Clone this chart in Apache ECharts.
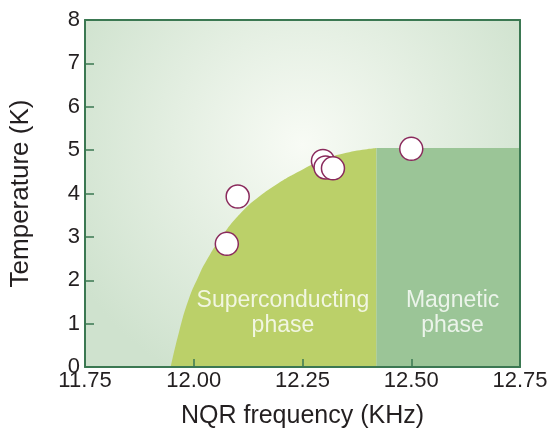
<!DOCTYPE html>
<html>
<head>
<meta charset="utf-8">
<script src="https://cdn.jsdelivr.net/npm/echarts@6/dist/echarts.min.js"></script>
<style>
  html, body { margin: 0; padding: 0; background: #fff; }
  #chart { width: 552px; height: 434px; }
</style>
</head>
<body>
<div id="chart"></div>
<script>
// measured points (NQR frequency, Tc)
var pointFreq = [12.076, 12.101, 12.297, 12.303, 12.320, 12.500];
var pointTemp = [2.84, 3.93, 4.75, 4.60, 4.58, 5.03];

// superconducting dome edge
var domeFreq = [11.947, 11.966, 11.988, 12.010, 12.029, 12.071, 12.113, 12.144, 12.190, 12.244, 12.297, 12.351, 12.42];
var domeTemp = [0, 0.80, 1.55, 2.07, 2.45, 3.10, 3.60, 3.88, 4.21, 4.52, 4.77, 4.94, 5.05];

// magnetic phase block
var magFreq = [12.42, 12.75];
var magTemp = [5.05, 5.05];

var phaseNames = ['Superconducting\nphase', 'Magnetic\nphase'];
var phaseFreq = [12.205, 12.595];
var phaseTemp = [1.25, 1.25];

function zip(a, b) {
    var out = [];
    for (var i = 0; i < a.length; i++) out.push([a[i], b[i]]);
    return out;
}

var axisColor = '#3b7852';
var textColor = '#231f20';
var font = 'Liberation Sans, Arial, sans-serif';

var chart = echarts.init(document.getElementById('chart'));

var option = {
    animation: false,
    textStyle: { fontFamily: font },
    grid: {
        left: 85, right: 32, top: 20, bottom: 65,
        show: true,
        borderWidth: 0,
        backgroundColor: {
            type: 'radial', x: 0.5, y: 0.36, r: 0.75,
            colorStops: [
                { offset: 0, color: '#f8fbf5' },
                { offset: 1, color: '#cfe2ce' }
            ]
        }
    },
    xAxis: [{
        type: 'value', min: 11.75, max: 12.75, interval: 0.25, z: 10,
        name: 'NQR frequency (KHz)', nameLocation: 'middle', nameGap: 37,
        nameTextStyle: { fontSize: 25, color: textColor, fontFamily: font },
        axisLine: { show: true, lineStyle: { color: axisColor, width: 2 } },
        axisTick: { show: true, inside: true, length: 8, lineStyle: { color: axisColor, width: 1.5 } },
        axisLabel: {
            fontSize: 22, color: textColor, margin: 3, fontFamily: font,
            formatter: function (v) { return v.toFixed(2); }
        },
        splitLine: { show: false }
    }, {
        type: 'value', position: 'top', min: 11.75, max: 12.75, z: 10,
        axisLine: { show: true, onZero: false, lineStyle: { color: axisColor, width: 2 } },
        axisTick: { show: false }, axisLabel: { show: false }, splitLine: { show: false }
    }],
    yAxis: [{
        type: 'value', min: 0, max: 8, interval: 1, z: 10,
        name: 'Temperature (K)', nameLocation: 'middle', nameGap: 51,
        nameTextStyle: { fontSize: 26, color: textColor, fontFamily: font },
        axisLine: { show: true, lineStyle: { color: axisColor, width: 2 } },
        axisTick: { show: true, inside: true, length: 9, lineStyle: { color: axisColor, width: 1.5 } },
        axisLabel: { fontSize: 22, color: textColor, margin: 5, fontFamily: font },
        splitLine: { show: false }
    }, {
        type: 'value', position: 'right', min: 0, max: 8, z: 10,
        axisLine: { show: true, onZero: false, lineStyle: { color: axisColor, width: 2 } },
        axisTick: { show: false }, axisLabel: { show: false }, splitLine: { show: false }
    }],
    series: [
        {
            name: 'Superconducting',
            type: 'line',
            data: zip(domeFreq, domeTemp),
            smooth: 0.5,
            symbol: 'none',
            lineStyle: { width: 0 },
            areaStyle: { color: '#bbd069', opacity: 1 },
            z: 1
        },
        {
            name: 'Magnetic',
            type: 'line',
            data: zip(magFreq, magTemp),
            symbol: 'none',
            lineStyle: { width: 0 },
            areaStyle: { color: '#9bc597', opacity: 1 },
            z: 1
        },
        {
            name: 'labels',
            type: 'scatter',
            data: zip(phaseFreq, phaseTemp),
            symbolSize: 0,
            silent: true,
            label: {
                show: true, position: 'inside',
                color: '#ffffff', fontSize: 23, lineHeight: 25, fontFamily: font,
                formatter: function (p) { return phaseNames[p.dataIndex]; }
            },
            z: 3
        },
        {
            name: 'Tc',
            type: 'scatter',
            data: zip(pointFreq, pointTemp),
            symbol: 'circle',
            symbolSize: 23,
            itemStyle: { color: '#ffffff', borderColor: '#8a2a5c', borderWidth: 1.5, opacity: 1 },
            z: 5
        }
    ]
};

chart.setOption(option);
</script>
</body>
</html>
